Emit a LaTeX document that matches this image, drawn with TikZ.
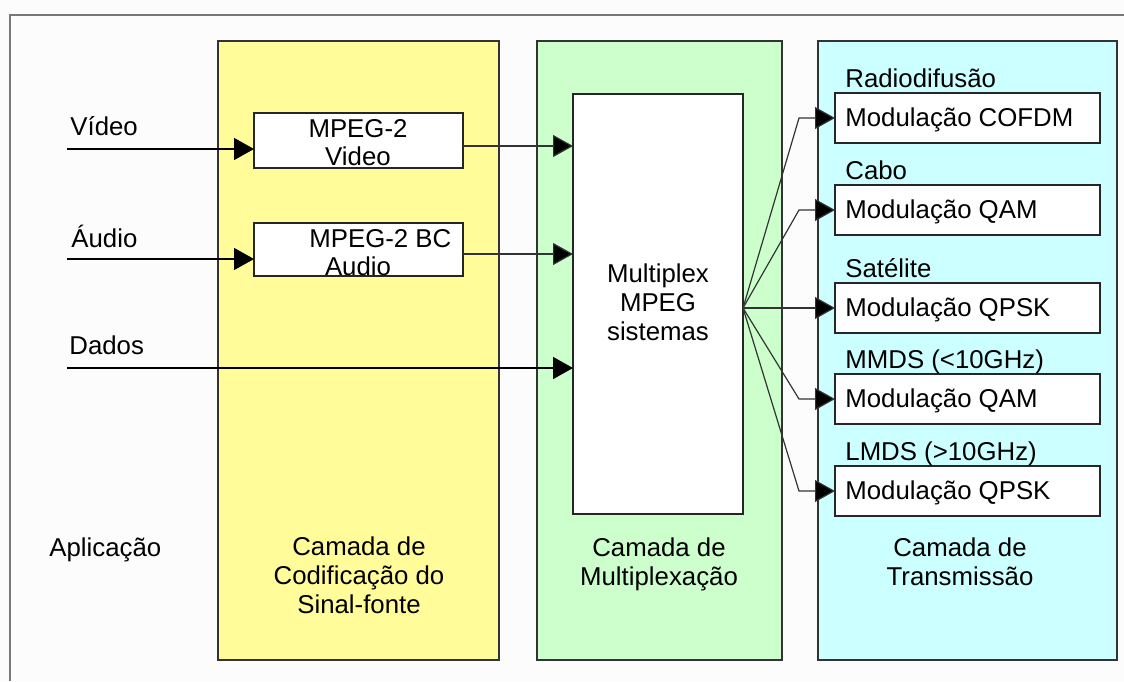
\documentclass[tikz,border=0pt]{standalone}
\usepackage{fontspec}
\setmainfont{Liberation Sans}
\usetikzlibrary{positioning, arrows.meta, calc, fit}

\definecolor{srcyellow}{RGB}{255,252,153}
\definecolor{muxgreen}{RGB}{204,255,204}
\definecolor{txcyan}{RGB}{204,255,255}
\definecolor{framegray}{RGB}{120,120,120}

\tikzset{
  panel/.style={draw=black!80, line width=0.75pt},
  box/.style={draw=black!85, fill=white, line width=0.75pt, inner sep=0pt, outer sep=0pt},
  lbl/.style={inner sep=0pt, font=\fontsize{12.9}{14.3}\selectfont},
  feed/.style={-{Triangle[length=10pt, width=11pt]}, line width=0.75pt},
  link/.style={-{Triangle[length=10pt, width=11pt, fill=black]}, line width=0.6pt, black!80},
}

\begin{document}
\begin{tikzpicture}[x=0.5pt, y=-0.5pt]
\useasboundingbox (0,0) rectangle (1124,681);
\fill[black!1] (0,0) rectangle (1124,681);

% Outer frame
\draw[framegray, line width=0.75pt] (10,681) -- (10,15) -- (1124,15);

% Layers
\draw[panel, fill=srcyellow] (218,41) rectangle (499,660);
\draw[panel, fill=muxgreen] (537,41) rectangle (782,660);
\draw[panel, fill=txcyan] (818,41) rectangle (1117,660);

% Inputs
\node[lbl, anchor=base west] (vidLbl) at (70,135) {Vídeo};
\node[lbl, anchor=base west] (audLbl) at (71,247) {Áudio};
\node[lbl, anchor=base west] (datLbl) at (69,354) {Dados};
\node[lbl, anchor=base west] (appLbl) at (49,556) {Aplicação};

\coordinate (vidIn) at (67,149);
\coordinate (audIn) at (67,259);
\coordinate (datIn) at (67,368);

% Encoders and multiplexer
\node[box, fit={(254,113) (463,168)}] (vid) {};
\node[box, fit={(254,223) (463,276)}] (aud) {};
\node[box, fit={(573,94) (743,514)}] (mux) {};

\node[lbl, anchor=base] (vidTop) at (358,137) {MPEG-2};
\node[lbl, anchor=base] (vidBot) at (358,165) {Video};
\node[lbl, anchor=base west] (audTop) at (309,247) {MPEG-2 BC};
\node[lbl, anchor=base] (audBot) at (358,275) {Audio};
\node[lbl, align=center, anchor=base] (muxTxt) at (658,340) {Multiplex\\MPEG\\sistemas};

% Layer captions (anchored on the last line)
\node[lbl, align=center, anchor=base] (srcCap) at (359,613) {Camada de\\Codificação do\\Sinal-fonte};
\node[lbl, align=center, anchor=base] (muxCap) at (659,585) {Camada de\\Multiplexação};
\node[lbl, align=center, anchor=base] (txCap) at (960,585) {Camada de\\Transmissão};

% Arrows
\draw[feed] (vidIn) -- (vidIn -| vid.west);
\draw[feed] (audIn) -- (audIn -| aud.west);
\draw[feed] (datIn) -- (datIn -| mux.west);

\coordinate (vidOut) at (463,146);
\coordinate (audOut) at (463,254);
\draw[link] (vidOut) -- (vidOut -| mux.west);
\draw[link] (audOut) -- (audOut -| mux.west);

% Transmission
\coordinate (fan) at (743,308);
\coordinate (bend) at (799,0);
\foreach \n/\top/\head/\kind in {1/93/Radiodifusão/COFDM, 2/185/Cabo/QAM, 3/283/Satélite/QPSK, 4/374/{MMDS (<10GHz)}/QAM, 5/466/{LMDS (>10GHz)}/QPSK} {
  \node[box, fit={(835,\top) (1100,\top+50)}] (mod\n) {};
  \node[lbl, anchor=base west] (head\n) at (845,\top-6) {\head};
  \node[lbl, anchor=base west] (kind\n) at (845,\top+33) {Modulação \kind};
  \draw[link] (fan) -- (bend |- mod\n.west) -- (mod\n.west);
}

\end{tikzpicture}
\end{document}
